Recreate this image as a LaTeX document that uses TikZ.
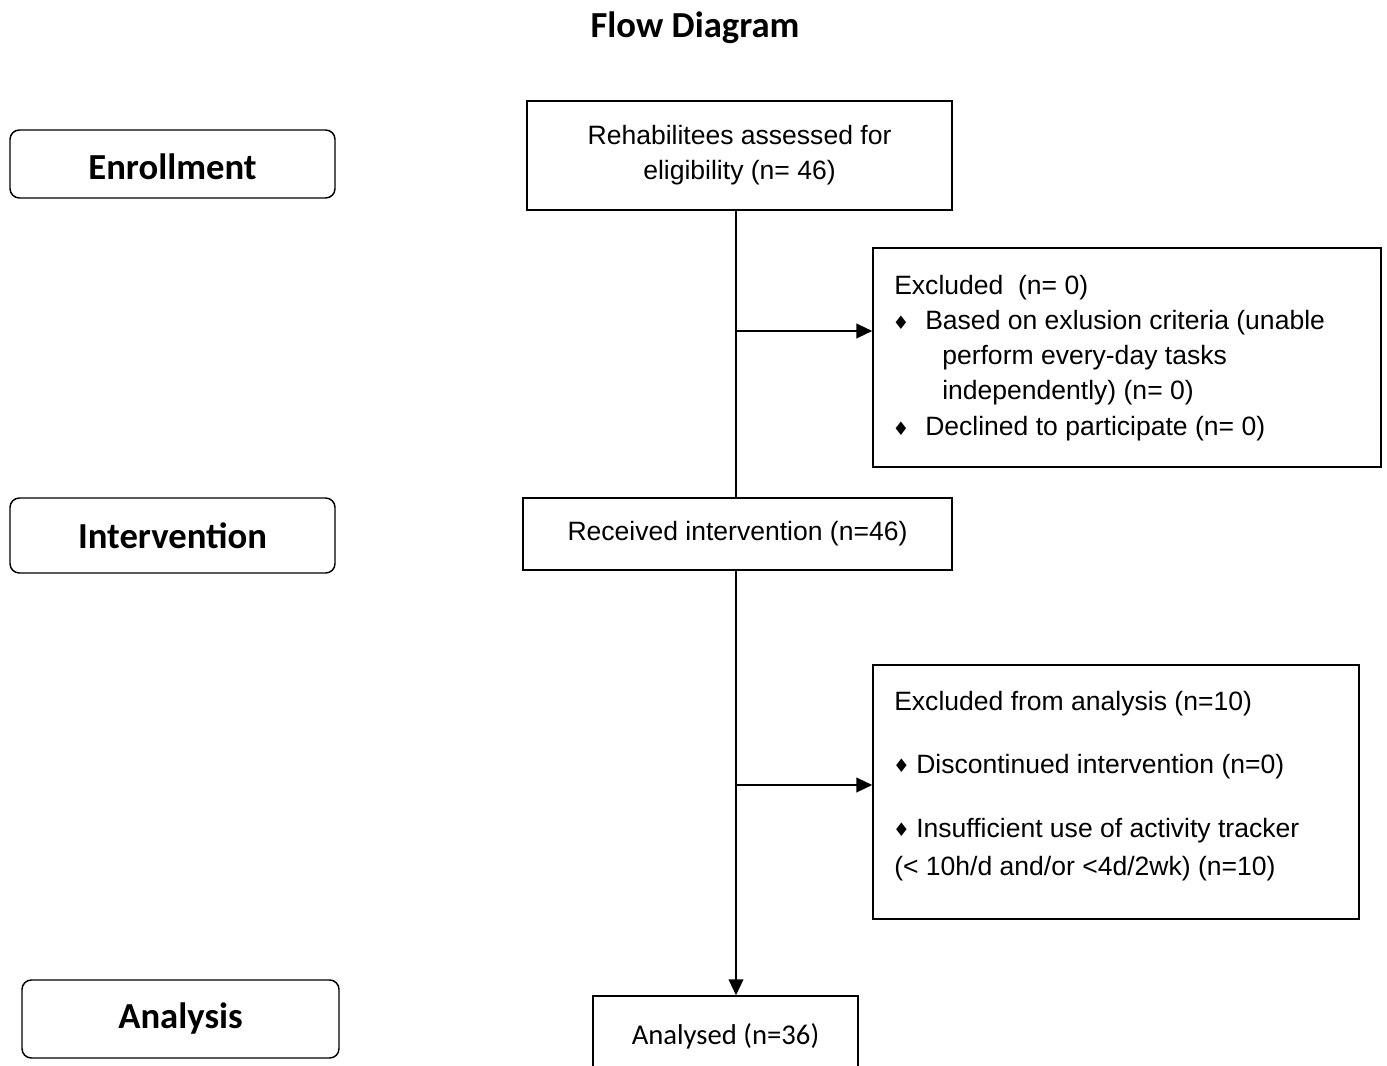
\documentclass[tikz,border=0pt]{standalone}
\usepackage{fontspec}
\setmainfont{Liberation Sans}
\newfontfamily\calib{Carlito}
\newfontfamily\djv{DejaVu Sans}
\usetikzlibrary{arrows.meta}
\newcommand\arialtxt{\fontsize{19.9}{26.25}\selectfont}
\newcommand\headtxt{\calib\bfseries\fontsize{27.5}{30}\selectfont}
\newcommand\bul{{\djv\fontsize{14}{14}\selectfont ♦}}
\begin{document}
\begin{tikzpicture}[x=0.75pt,y=-0.75pt,
  box/.style={draw, line width=1.1pt, inner sep=0pt, align=center, font=\arialtxt},
  head/.style={draw, line width=1.1pt, rounded corners=7pt, inner sep=0pt, font=\headtxt},
  txt/.style={inner sep=0pt, anchor=base west, font=\arialtxt},
  bullet/.style={inner sep=0pt, anchor=center},
  conn/.style={line width=1.6pt},
  arr/.style={conn, -{Triangle[length=12pt,width=11pt]}}]
\useasboundingbox (0,0) rectangle (1387,1066);
\clip (0,0) rectangle (1387,1066);

\node[inner sep=0pt, font=\headtxt] (title) at (695,28) {Flow Diagram};

\node[head, minimum width=243.75pt, minimum height=51pt, text depth=0pt, text height=24pt] (enr) at (172.5,164) {Enrollment};
\node[head, minimum width=243.75pt, minimum height=56.25pt] (int) at (172.5,535.5) {Intervention};
\node[head, minimum width=237.75pt, minimum height=58.5pt] (ana) at (180.5,1019) {Analysis};

\node[box, minimum width=318.75pt, minimum height=81.75pt] (box1) at (739.5,155.5) {Rehabilitees assessed for\\eligibility (n= 46)};
\node[box, minimum width=381pt, minimum height=164.25pt] (excl) at (1127,357.5) {};
\node[box, minimum width=321.75pt, minimum height=54pt] (recv) at (737.5,534) {Received intervention (n=46)};
\node[box, minimum width=364.5pt, minimum height=190.5pt] (excl2) at (1116,792) {};
\node[box, minimum width=198.75pt, minimum height=60pt, font=\calib\fontsize{21.5}{24}\selectfont] (anl) at (725.5,1036) {Analysed (n=36)};

% excluded box text
\node[txt] (e1) at (894,294) {Excluded\ \ (n= 0)};
\node[bullet] (eb1) at (901,322.5) {\bul};
\node[txt] (e2) at (925,329) {Based on exlusion criteria (unable};
\node[txt] (e3) at (942,364) {perform every-day tasks};
\node[txt] (e4) at (942,399) {independently) (n= 0)};
\node[bullet] (eb2) at (901,428.5) {\bul};
\node[txt] (e5) at (925,435) {Declined to participate (n= 0)};

% excluded from analysis text
\node[txt] (f1) at (894,710) {Excluded from analysis (n=10)};
\node[bullet] (fb1) at (901.5,766) {\bul};
\node[txt] (f2) at (916,773) {Discontinued intervention (n=0)};
\node[bullet] (fb2) at (901.5,830) {\bul};
\node[txt] (f3) at (916,837) {Insufficient use of activity tracker};
\node[txt] (f4) at (894,875) {(< 10h/d and/or <4d/2wk) (n=10)};

\coordinate (j1) at (736,331);
\coordinate (j2) at (736,785);
\draw[conn] (box1.south -| j1) -- (recv.north -| j1);
\draw[arr] (j1) -- (excl.west |- j1);
\draw[arr] (recv.south -| j2) -- (anl.north -| j2);
\draw[arr] (j2) -- (excl2.west |- j2);
\end{tikzpicture}
\end{document}
